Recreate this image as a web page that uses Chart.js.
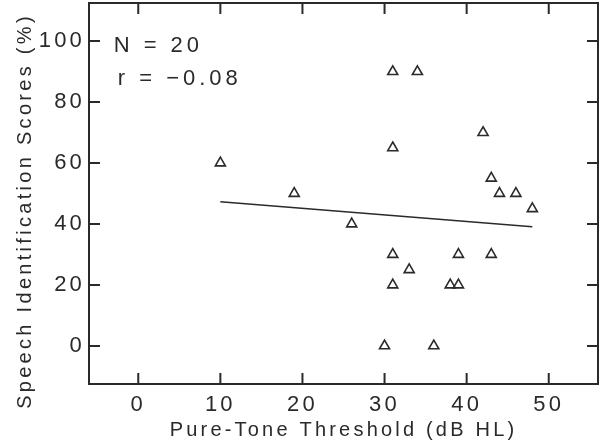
<!DOCTYPE html>
<html>
<head>
<meta charset="utf-8">
<script src="https://cdn.jsdelivr.net/npm/chart.js@4.4.1/dist/chart.umd.min.js"></script>
<style>
    html, body { margin: 0; padding: 0; background: #fff; }
    #wrap { width: 600px; height: 445px; }
</style>
</head>
<body>
<div id="wrap"><canvas id="scatterChart"></canvas></div>
<script>
// Pure-tone threshold (dB HL) vs speech identification score (%)
const thresholds = [10, 19, 26, 30, 31, 31, 31, 31, 33, 34, 36, 38, 39, 39, 42, 43, 43, 44, 46, 48];
const scores     = [60, 50, 40, 0, 90, 65, 30, 20, 25, 90, 0, 20, 30, 20, 70, 55, 30, 50, 50, 45];

// regression line end points
const fitX = [10, 48];
const fitY = [47.3, 39.1];

const xTicks = [0, 10, 20, 30, 40, 50];
const yTicks = [0, 20, 40, 60, 80, 100];

const statLines = ['N = 20', 'r = \u22120.08'];
const xTitle = 'Pure-Tone Threshold (dB HL)';
const yTitle = 'Speech Identification Scores (%)';

const ink = '#2a2a2a';
const fontFamily = '"Liberation Sans", Arial, sans-serif';

const points = thresholds.map((x, i) => ({ x: x, y: scores[i] }));
const fitLine = fitX.map((x, i) => ({ x: x, y: fitY[i] }));

// Frame with inward ticks on all four sides, the y title and the N / r note
const framePlugin = {
    id: 'frame',
    beforeDraw(chart) {
        chart.ctx.letterSpacing = '3.2px';
    },
    afterDraw(chart) {
        const { ctx, chartArea: a, scales } = chart;
        const len = 11;
        ctx.save();
        ctx.strokeStyle = ink;
        ctx.lineWidth = 2;
        ctx.strokeRect(a.left, a.top, a.right - a.left, a.bottom - a.top);
        ctx.beginPath();
        xTicks.forEach(v => {
            const px = scales.x.getPixelForValue(v);
            ctx.moveTo(px, a.bottom); ctx.lineTo(px, a.bottom - len);
            ctx.moveTo(px, a.top); ctx.lineTo(px, a.top + len);
        });
        yTicks.forEach(v => {
            const py = scales.y.getPixelForValue(v);
            ctx.moveTo(a.left, py); ctx.lineTo(a.left + len, py);
            ctx.moveTo(a.right, py); ctx.lineTo(a.right - len, py);
        });
        ctx.stroke();

        ctx.fillStyle = ink;

        // y axis title, sits a little below the middle of the frame
        ctx.save();
        ctx.font = '20px ' + fontFamily;
        ctx.letterSpacing = '3.3px';
        ctx.textAlign = 'center';
        ctx.textBaseline = 'middle';
        ctx.translate(25, 211);
        ctx.rotate(-Math.PI / 2);
        ctx.fillText(yTitle, 0, 0);
        ctx.restore();

        ctx.font = '22px ' + fontFamily;
        ctx.letterSpacing = '4px';
        ctx.textAlign = 'left';
        ctx.textBaseline = 'middle';
        ctx.fillText(statLines[0], scales.x.getPixelForValue(-3), scales.y.getPixelForValue(98.4));
        ctx.fillText(statLines[1], scales.x.getPixelForValue(-2.5), scales.y.getPixelForValue(87.5));
        ctx.restore();
    }
};

const ctx = document.getElementById('scatterChart').getContext('2d');
new Chart(ctx, {
    type: 'scatter',
    data: {
        datasets: [
            {
                label: 'Listeners',
                data: points,
                pointStyle: 'triangle',
                pointRadius: 5.8,
                pointBorderWidth: 1.6,
                borderColor: ink,
                backgroundColor: 'rgba(0,0,0,0)'
            },
            {
                label: 'Fit',
                data: fitLine,
                showLine: true,
                pointRadius: 0,
                borderColor: ink,
                borderWidth: 1.6
            }
        ]
    },
    options: {
        responsive: true,
        maintainAspectRatio: false,
        animation: false,
        layout: {
            autoPadding: false,
            padding: { top: 3, right: 2, left: 0, bottom: 0 }
        },
        plugins: {
            legend: { display: false },
            tooltip: { enabled: false }
        },
        scales: {
            x: {
                type: 'linear',
                min: -6,
                max: 56,
                afterBuildTicks: s => { s.ticks = xTicks.map(v => ({ value: v })); },
                afterFit: s => {
                    s.height = 61;
                    s.paddingLeft = 0;
                    s.paddingRight = 0;
                },
                grid: { display: false, drawTicks: false },
                border: { display: false },
                ticks: {
                    color: ink,
                    padding: 8,
                    font: { family: fontFamily, size: 22 }
                },
                title: {
                    display: true,
                    text: xTitle,
                    color: ink,
                    font: { family: fontFamily, size: 20 },
                    padding: { top: 0, bottom: 3 }
                }
            },
            y: {
                type: 'linear',
                min: -12.5,
                max: 112.5,
                afterBuildTicks: s => { s.ticks = yTicks.map(v => ({ value: v })); },
                afterFit: s => {
                    s.width = 89;
                    s.paddingTop = 0;
                    s.paddingBottom = 0;
                },
                grid: { display: false, drawTicks: false },
                border: { display: false },
                ticks: {
                    color: ink,
                    padding: 4,
                    font: { family: fontFamily, size: 22 }
                },
                title: { display: false }
            }
        }
    },
    plugins: [framePlugin]
});
</script>
</body>
</html>
